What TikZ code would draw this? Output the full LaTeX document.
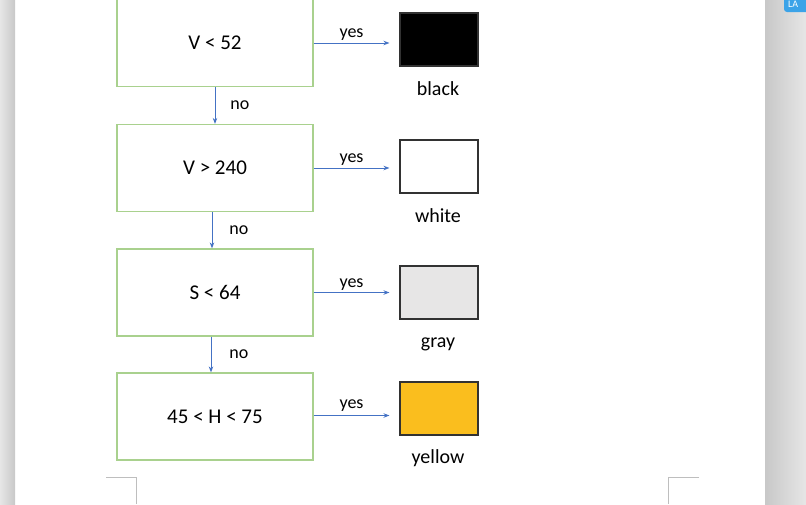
\documentclass[tikz,border=0pt]{standalone}
\usepackage{fontspec}
\setmainfont{Carlito}
\usetikzlibrary{arrows.meta,positioning}
\definecolor{boxgreen}{RGB}{169,209,142}
\definecolor{arrblue}{RGB}{68,114,196}
\definecolor{swgray}{RGB}{231,230,230}
\definecolor{swyellow}{RGB}{250,190,30}
\definecolor{swborder}{RGB}{50,50,50}
\definecolor{bgA}{RGB}{200,200,200}
\definecolor{bgB}{RGB}{230,230,230}
\definecolor{iconblue}{RGB}{59,163,232}
\definecolor{markgray}{RGB}{190,190,190}
\tikzset{
  condbox/.style={draw=boxgreen, line width=1.2pt, minimum width=196pt, minimum height=87pt, inner sep=0pt, font=\fontsize{21}{24}\selectfont},
  swatch/.style={draw=swborder, line width=1.1pt, minimum width=78pt, minimum height=53pt, inner sep=0pt},
  swlabel/.style={font=\fontsize{20}{23}\selectfont, inner sep=0pt, anchor=base},
  arr/.style={draw=arrblue, line width=0.9pt, -{Stealth[length=6pt,width=4.5pt]}},
  edgelabel/.style={font=\fontsize{18}{21}\selectfont, inner sep=2pt},
  cornermark/.style={draw=markgray, line width=0.8pt}
}
\begin{document}
\begin{tikzpicture}[x=1pt,y=-1pt]
\useasboundingbox (0,0) rectangle (806,504);
% page and background
\fill[white] (0,0) rectangle (806,504);
\shade[left color=bgB, right color=bgA] (0,0) rectangle (15,504);
\shade[left color=bgA, right color=bgB] (765,0) rectangle (806,504);
\begin{scope}
\clip (0,0) rectangle (806,504);
\fill[iconblue, rounded corners=3pt] (784,-6) rectangle (812,12);
\node[text=white, font=\fontsize{10}{10}\selectfont, anchor=north west, inner sep=0pt] (iconlabel) at (788,1) {LA};
\end{scope}
% corner marks
\coordinate (cl1) at (106,477); \coordinate (cl2) at (136,477); \coordinate (cl3) at (136,504);
\draw[cornermark] (cl1) -- (cl2) -- (cl3);
\coordinate (cr1) at (699,477); \coordinate (cr2) at (668,477); \coordinate (cr3) at (668,504);
\draw[cornermark] (cr1) -- (cr2) -- (cr3);
% condition boxes
\node[condbox] (b1) at (215,43) {V < 52};
\node[condbox] (b2) at (215,168) {V > 240};
\node[condbox] (b3) at (215,292.5) {S < 64};
\node[condbox] (b4) at (215,416.5) {45 < H < 75};
% swatches
\node[swatch, fill=black] (s1) at (439,39.5) {};
\node[swatch, fill=white] (s2) at (439,166.5) {};
\node[swatch, fill=swgray] (s3) at (439,292.5) {};
\node[swatch, fill=swyellow] (s4) at (439,408.5) {};
\node[swlabel] (l1) at (438,95) {black};
\node[swlabel] (l2) at (438,222) {white};
\node[swlabel] (l3) at (438,347) {gray};
\node[swlabel] (l4) at (438,463) {yellow};
% yes arrows
\draw[arr] (b1.east) -- ([xshift=-10pt]b1.east -| s1.west) node[midway, above, edgelabel] {yes};
\draw[arr] (b2.east) -- ([xshift=-10pt]b2.east -| s2.west) node[midway, above, edgelabel] {yes};
\draw[arr] (b3.east) -- ([xshift=-10pt]b3.east -| s3.west) node[midway, above, edgelabel] {yes};
\draw[arr] ([yshift=1pt]b4.east) -- ([xshift=-10pt,yshift=1pt]b4.east -| s4.west) node[midway, above=2pt, edgelabel] {yes};
% no arrows
\draw[arr] (b1.south) -- (b2.north) node[midway, right=13pt, edgelabel] {no};
\draw[arr] ([xshift=-3pt]b2.south) -- ([xshift=-3pt]b3.north) node[midway, right=15pt, edgelabel] {no};
\draw[arr] ([xshift=-4pt]b3.south) -- ([xshift=-4pt]b4.north) node[midway, right=16pt, edgelabel] {no};
\end{tikzpicture}
\end{document}
